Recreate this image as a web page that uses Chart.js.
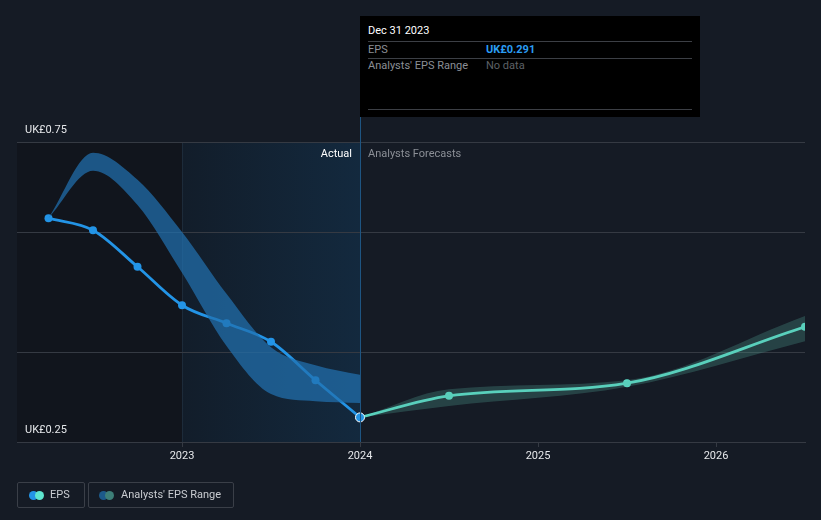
<!DOCTYPE html>
<html>
<head>
<meta charset="utf-8">
<script src="https://cdn.jsdelivr.net/npm/chart.js@4.4.1/dist/chart.umd.min.js"></script>
<style>
  html, body { margin: 0; padding: 0; background: #151b25; }
  body { width: 821px; height: 520px; position: relative; overflow: hidden; font-family: Roboto, "Noto Sans", sans-serif; }
  #wrap { position: absolute; left: 0; top: 0; width: 821px; height: 520px; }
  .tip { position: absolute; left: 360px; top: 16px; width: 340px; height: 101px; background: #000; font-size: 11px; }
  .tip .row { position: absolute; left: 8px; right: 8px; border-top: 1px solid #3c3f45; }
  .tip span { position: absolute; }
  .legend { position: absolute; top: 482px; height: 26px; border: 1px solid #3a3f48; border-radius: 2px; box-sizing: border-box; color: #c9ccd1; font-size: 11px; line-height: 24px; }
  .dot { position: absolute; top: 8px; width: 9px; height: 9px; border-radius: 50%; }
</style>
</head>
<body>
<div id="wrap"><canvas id="myChart" width="821" height="520"></canvas></div>

<div class="tip">
  <span style="left:8px;top:8px;color:#fff;">Dec 31 2023</span>
  <div class="row" style="top:25px;"></div>
  <span style="left:8px;top:27px;color:#8b8f96;">EPS</span>
  <span style="left:126px;top:27px;color:#2a9df4;font-weight:bold;">UK£0.291</span>
  <div class="row" style="top:42px;"></div>
  <span style="left:8px;top:43px;color:#8b8f96;">Analysts' EPS Range</span>
  <span style="left:126px;top:43px;color:#5d6066;">No data</span>
  <div class="row" style="top:93px;"></div>
</div>

<div class="legend" style="left:17px;width:68px;">
  <div class="dot" style="left:11px;background:#2394e6;"></div>
  <div class="dot" style="left:17px;background:#5ee6cf;"></div>
  <span style="position:absolute;left:32px;">EPS</span>
</div>
<div class="legend" style="left:88px;width:146px;">
  <div class="dot" style="left:10px;background:#1c5a8a;"></div>
  <div class="dot" style="left:16px;background:#3d7f78;"></div>
  <span style="position:absolute;left:32px;">Analysts' EPS Range</span>
</div>

<script>
// quarterly actuals (decimal years)
let actualDates = [2022.25, 2022.5, 2022.75, 2023.0, 2023.25, 2023.5, 2023.75, 2024.0];
let actualEps = [0.623, 0.603, 0.542, 0.478, 0.448, 0.417, 0.353, 0.291];
let pastRangeHigh = [0.623, 0.732, 0.687, 0.600, 0.497, 0.408, 0.378, 0.362];
let pastRangeLow = [0.623, 0.702, 0.645, 0.532, 0.410, 0.330, 0.318, 0.315];

// analysts forecasts
let forecastDates = [2024.0, 2024.5, 2025.5, 2026.5];
let forecastEps = [0.291, 0.327, 0.348, 0.442];
let forecastHigh = [0.291, 0.338, 0.353, 0.460];
let forecastLow = [0.291, 0.310, 0.342, 0.418];

let yearTicks = [2023, 2024, 2025, 2026];
let yGridValues = [0.25, 0.4, 0.6, 0.75];
let yLabelValues = [0.25, 0.75];

function pts(xs, ys) {
  return xs.map((x, i) => ({ x: x, y: ys[i] }));
}

const gridColor = '#353a43';

// shaded regions, divider lines and in-chart labels
const decorPlugin = {
  id: 'decor',
  beforeDraw(chart) {
    const { ctx, chartArea, scales } = chart;
    const x23 = scales.x.getPixelForValue(2023);
    const xNow = scales.x.getPixelForValue(actualDates[actualDates.length - 1]);
    ctx.save();
    ctx.fillStyle = '#11151d';
    ctx.fillRect(chartArea.left, chartArea.top, x23 - chartArea.left, chartArea.bottom - chartArea.top);
    const g = ctx.createLinearGradient(x23, 0, xNow, 0);
    g.addColorStop(0, '#121d2a');
    g.addColorStop(1, '#13293e');
    ctx.fillStyle = g;
    ctx.fillRect(x23, chartArea.top, xNow - x23, chartArea.bottom - chartArea.top);
    ctx.strokeStyle = '#1d2b3a';
    ctx.lineWidth = 1;
    ctx.beginPath();
    ctx.moveTo(Math.round(x23) + 0.5, chartArea.top);
    ctx.lineTo(Math.round(x23) + 0.5, chartArea.bottom);
    ctx.stroke();
    ctx.restore();
  },
  afterDraw(chart) {
    const { ctx, chartArea, scales } = chart;
    const xNow = scales.x.getPixelForValue(actualDates[actualDates.length - 1]);
    ctx.save();
    ctx.strokeStyle = '#1e5582';
    ctx.lineWidth = 1;
    ctx.beginPath();
    ctx.moveTo(Math.round(xNow) + 0.5, 16);
    ctx.lineTo(Math.round(xNow) + 0.5, chartArea.bottom);
    ctx.stroke();

    ctx.font = '11px Roboto, "Noto Sans", sans-serif';
    ctx.textBaseline = 'middle';
    ctx.textAlign = 'right';
    ctx.fillStyle = '#ffffff';
    ctx.fillText('Actual', xNow - 8, chartArea.top + 12);
    ctx.textAlign = 'left';
    ctx.fillStyle = '#8b8f96';
    ctx.fillText('Analysts Forecasts', xNow + 8, chartArea.top + 12);

    ctx.fillStyle = '#e6e8eb';
    yLabelValues.forEach(v => {
      const y = scales.y.getPixelForValue(v);
      ctx.fillText('UK£' + v.toFixed(2), chartArea.left + 8, y - 12);
    });
    ctx.restore();
  }
};

new Chart('myChart', {
  type: 'line',
  data: {
    datasets: [
      {
        data: pts(actualDates, pastRangeHigh),
        borderWidth: 0, pointRadius: 0, cubicInterpolationMode: 'monotone',
        backgroundColor: 'rgba(33,112,175,0.72)', fill: '+1'
      },
      {
        data: pts(actualDates, pastRangeLow),
        borderWidth: 0, pointRadius: 0, cubicInterpolationMode: 'monotone', fill: false
      },
      {
        data: pts(forecastDates, forecastHigh),
        borderWidth: 0, pointRadius: 0, cubicInterpolationMode: 'monotone',
        backgroundColor: 'rgba(78,160,145,0.3)', fill: '+1'
      },
      {
        data: pts(forecastDates, forecastLow),
        borderWidth: 0, pointRadius: 0, cubicInterpolationMode: 'monotone', fill: false
      },
      {
        data: pts(actualDates, actualEps),
        borderColor: '#2394e6', borderWidth: 2.8,
        cubicInterpolationMode: 'monotone',
        pointRadius: actualDates.map((d, i) => i === actualDates.length - 1 ? 4.5 : 4),
        pointBackgroundColor: '#2394e6',
        pointBorderColor: actualDates.map((d, i) => i === actualDates.length - 1 ? '#ffffff' : '#2394e6'),
        pointBorderWidth: actualDates.map((d, i) => i === actualDates.length - 1 ? 1 : 0),
        fill: false
      },
      {
        data: pts(forecastDates.slice(1), forecastEps.slice(1)),
        borderWidth: 0, pointRadius: 4, pointBackgroundColor: '#5ee6cf', showLine: false
      },
      {
        data: pts(forecastDates, forecastEps),
        borderColor: '#5ee6cf', borderWidth: 2.8,
        cubicInterpolationMode: 'monotone',
        pointRadius: 0, fill: false, order: 1
      }
    ]
  },
  options: {
    responsive: false,
    animation: false,
    layout: { padding: { top: 142, left: 17, right: 16, bottom: 0 } },
    plugins: {
      legend: { display: false },
      tooltip: { enabled: false }
    },
    scales: {
      x: {
        type: 'linear',
        min: 2022.073,
        max: 2026.5,
        afterBuildTicks: scale => { scale.ticks = yearTicks.map(v => ({ value: v })); },
        afterFit: scale => { scale.height = 78; },
        ticks: {
          color: '#e6e8eb',
          padding: 3,
          font: { family: 'Roboto, "Noto Sans", sans-serif', size: 11 },
          callback: v => String(v)
        },
        grid: { drawOnChartArea: false, drawTicks: true, tickLength: 5, color: gridColor },
        border: { display: true, color: gridColor }
      },
      y: {
        min: 0.25,
        max: 0.75,
        afterBuildTicks: scale => { scale.ticks = yGridValues.map(v => ({ value: v })); },
        afterFit: scale => { scale.width = 0; },
        ticks: { display: false },
        grid: { color: gridColor, drawTicks: false },
        border: { display: false }
      }
    }
  },
  plugins: [decorPlugin]
});
</script>
</body>
</html>
